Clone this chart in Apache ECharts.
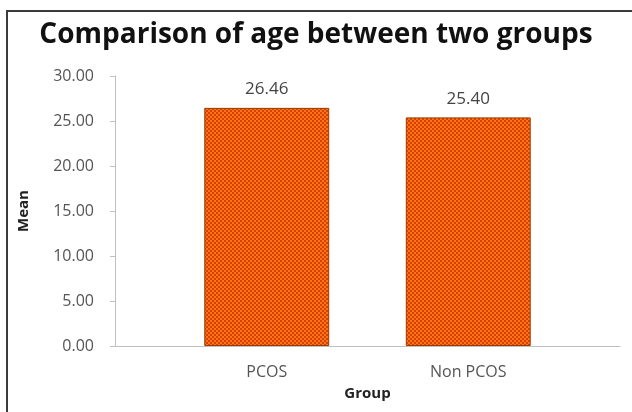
<!DOCTYPE html>
<html>
<head>
<meta charset="utf-8">
<script src="https://cdn.jsdelivr.net/npm/echarts@6/dist/echarts.min.js"></script>
<style>
  html, body { margin: 0; padding: 0; background: #fff; }
  #chart { width: 632px; height: 412px; }
</style>
</head>
<body>
<div id="chart"></div>
<script>
var categories = ['PCOS', 'Non PCOS'];
var means = [26.46, 25.40];
var yTicks = [0, 30, 5]; // min, max, interval

// small checkerboard fill like the Excel pattern
var tile = document.createElement('canvas');
tile.width = 4;
tile.height = 4;
var ctx = tile.getContext('2d');
ctx.fillStyle = '#ff7414';
ctx.fillRect(0, 0, 4, 4);
ctx.fillStyle = '#d64000';
ctx.fillRect(0, 0, 2, 2);
ctx.fillRect(2, 2, 2, 2);

var mychart = echarts.init(document.getElementById('chart'));
var option = {
  backgroundColor: '#fff',
  textStyle: { fontFamily: 'Open Sans' },
  title: {
    text: 'Comparison of age between two groups',
    left: 'center',
    top: 16,
    textStyle: { fontFamily: 'Open Sans', fontSize: 28, fontWeight: 'bold', color: '#111' }
  },
  graphic: [
    {
      type: 'rect',
      shape: { x: 7, y: 11, width: 700, height: 500 },
      style: { fill: 'none', stroke: '#3a3a3a', lineWidth: 2 }
    }
  ],
  grid: [
    { left: 115, right: 12, top: 76, bottom: 66 },
    { left: 166, right: 63, top: 76, bottom: 66 }
  ],
  xAxis: [
    {
      gridIndex: 0,
      type: 'value',
      min: 0,
      max: 1,
      axisLine: { show: true, lineStyle: { color: '#c0c0c0', width: 1 } },
      axisTick: { show: false },
      axisLabel: { show: false },
      splitLine: { show: false }
    },
    {
      gridIndex: 1,
      type: 'category',
      data: categories,
      axisLine: { show: false },
      axisTick: { show: false },
      axisLabel: { margin: 18, fontSize: 16, color: '#555' },
      name: 'Group',
      nameLocation: 'middle',
      nameGap: 40,
      nameTextStyle: { fontSize: 15, fontWeight: 'bold', color: '#222' }
    }
  ],
  yAxis: [
    {
      gridIndex: 0,
      type: 'value',
      min: yTicks[0],
      max: yTicks[1],
      interval: yTicks[2],
      axisLine: { show: true, lineStyle: { color: '#c0c0c0', width: 1 } },
      axisTick: { show: true, inside: false, length: 5, lineStyle: { color: '#c0c0c0' } },
      axisLabel: {
        margin: 21,
        fontSize: 16,
        color: '#555',
        formatter: function (v) { return v.toFixed(2); }
      },
      splitLine: { show: false },
      name: 'Mean',
      nameLocation: 'middle',
      nameGap: 84,
      nameTextStyle: { fontSize: 15, fontWeight: 'bold', color: '#222' }
    },
    {
      gridIndex: 1,
      type: 'value',
      min: yTicks[0],
      max: yTicks[1],
      interval: yTicks[2],
      show: false
    }
  ],
  series: [
    {
      type: 'bar',
      xAxisIndex: 1,
      yAxisIndex: 1,
      data: means,
      barWidth: '62%',
      itemStyle: {
        color: { image: tile, repeat: 'repeat' },
        borderColor: '#9a3a00',
        borderWidth: 1
      },
      label: {
        show: true,
        position: 'top',
        distance: 10,
        fontSize: 17,
        color: '#444',
        formatter: function (p) { return p.value.toFixed(2); }
      }
    }
  ]
};
mychart.setOption(option);
</script>
</body>
</html>
